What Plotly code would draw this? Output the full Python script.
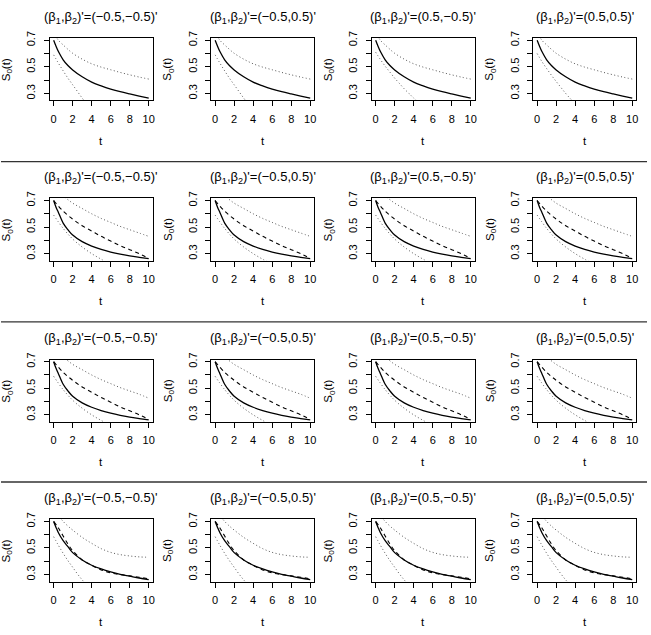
import plotly.graph_objects as go

# ---------------- data ----------------
col_titles = ["(β<sub>1</sub>,β<sub>2</sub>)'=(−0.5,−0.5)'",
              "(β<sub>1</sub>,β<sub>2</sub>)'=(−0.5,0.5)'",
              "(β<sub>1</sub>,β<sub>2</sub>)'=(0.5,−0.5)'",
              "(β<sub>1</sub>,β<sub>2</sub>)'=(0.5,0.5)'"]
x_ticks = [0, 2, 4, 6, 8, 10]
y_ticks = [0.3, 0.4, 0.5, 0.6, 0.7]
y_ticktext = ["0.3", "", "0.5", "", "0.7"]

t_solid = [0, 0.25, 0.5, 1, 1.5, 2, 3, 4, 5, 6, 7, 8, 9, 10]
t_full = [0, 0.5, 1, 1.5, 2, 3, 4, 5, 6, 7, 8, 9, 10]
t_int = [0, 1, 2, 3, 4, 5, 6, 7, 8, 9, 10]
t_half = [0, 0.5, 1, 1.5, 2, 2.5, 3, 3.5, 4, 4.5]
t_low_long = [0, 1, 2, 3, 4, 5, 6]

# row 1
r1_solid = [0.70, 0.655, 0.615, 0.553, 0.51, 0.477, 0.425, 0.385, 0.357, 0.333, 0.313, 0.296, 0.28, 0.265]
r1_upper = [0.76, 0.70, 0.665, 0.632, 0.602, 0.558, 0.523, 0.498, 0.478, 0.458, 0.44, 0.423, 0.408]
r1_lower_c1 = [0.59, 0.528, 0.47, 0.415, 0.365, 0.315, 0.265, 0.22, 0.18, 0.15]
r1_lower_c2 = [0.59, 0.528, 0.47, 0.415, 0.365, 0.315, 0.265, 0.22, 0.18, 0.15]
r1_lower_c3 = [0.61, 0.555, 0.505, 0.46, 0.415, 0.375, 0.335, 0.30, 0.265, 0.235]
r1_lower_c4 = [0.60, 0.54, 0.487, 0.437, 0.39, 0.345, 0.30, 0.26, 0.225, 0.19]
# row 2
r2_solid = [0.70, 0.65, 0.61, 0.53, 0.48, 0.44, 0.39, 0.357, 0.332, 0.312, 0.296, 0.283, 0.272, 0.262]
r2_dashed = [0.70, 0.62, 0.56, 0.51, 0.47, 0.43, 0.395, 0.36, 0.33, 0.30, 0.265]
r2_upper = [0.79, 0.735, 0.68, 0.64, 0.60, 0.565, 0.535, 0.505, 0.48, 0.455, 0.43]
r2_lower = [0.59, 0.49, 0.41, 0.35, 0.30, 0.258, 0.22]
# row 3
r3_solid = [0.70, 0.65, 0.61, 0.53, 0.48, 0.44, 0.39, 0.357, 0.332, 0.312, 0.296, 0.283, 0.272, 0.262]
r3_dashed = [0.70, 0.62, 0.56, 0.51, 0.47, 0.43, 0.395, 0.36, 0.33, 0.30, 0.265]
r3_upper = [0.79, 0.735, 0.68, 0.64, 0.60, 0.565, 0.535, 0.505, 0.48, 0.455, 0.425]
r3_lower = [0.59, 0.49, 0.41, 0.35, 0.30, 0.258, 0.22]
# row 4
r4_solid = [0.70, 0.655, 0.615, 0.555, 0.51, 0.465, 0.41, 0.37, 0.342, 0.32, 0.302, 0.288, 0.274, 0.262]
r4_dashed = [0.70, 0.65, 0.59, 0.53, 0.48, 0.41, 0.37, 0.335, 0.313, 0.30, 0.29, 0.28, 0.268]
r4_upper = [0.80, 0.745, 0.70, 0.665, 0.635, 0.58, 0.535, 0.495, 0.467, 0.45, 0.44, 0.433, 0.43]
r4_lower = [0.585, 0.52, 0.46, 0.405, 0.355, 0.305, 0.26, 0.22, 0.185, 0.15]

def row_sets(solid, dashed, upper, lowers):
    return [dict(solid=(t_solid, solid), dashed=dashed, upper=upper, lower=lw) for lw in lowers]

panels = [
    row_sets(r1_solid, None, (t_full, r1_upper),
             [(t_half, r1_lower_c1), (t_half, r1_lower_c2), (t_half, r1_lower_c3), (t_half, r1_lower_c4)]),
    row_sets(r2_solid, (t_int, r2_dashed), (t_int, r2_upper), [(t_low_long, r2_lower)] * 4),
    row_sets(r3_solid, (t_int, r3_dashed), (t_int, r3_upper), [(t_low_long, r3_lower)] * 4),
    row_sets(r4_solid, (t_full, r4_dashed), (t_full, r4_upper), [(t_half, r4_lower)] * 4),
]

# ---------------- layout geometry (pixels) ----------------
W, H = 651, 635
col_left = [50, 212, 373, 535]
box_w = 103
row_top = [31.5, 193.5, 356.5, 518]
box_h = 63
sep_y = [156.3, 318.3, 480.3]

FONT = "Liberation Sans, Arial, Helvetica, sans-serif"
TICKFONT = dict(size=11, family=FONT, color="black")

def fx(px):
    return px / W

def fy(py):
    return 1 - py / H

fig = go.Figure()
layout = dict(width=W, height=H, margin=dict(l=0, r=0, t=0, b=0),
              paper_bgcolor="white", plot_bgcolor="white", showlegend=False,
              font=dict(family=FONT, color="black"))
annotations = []
shapes = []

dot_line = dict(color="#555555", width=1, dash="1px,2.5px", shape="spline", smoothing=1)

k = 0
for r in range(4):
    for c in range(4):
        k += 1
        xa = "x" if k == 1 else f"x{k}"
        ya = "y" if k == 1 else f"y{k}"
        L = col_left[c]
        T = row_top[r]
        layout["xaxis" if k == 1 else f"xaxis{k}"] = dict(
            domain=[fx(L), fx(L + box_w)], anchor=ya, range=[-0.4, 10.4],
            tickvals=x_ticks, ticks="outside", ticklen=5, tickwidth=1, tickcolor="black",
            showline=True, mirror=True, linecolor="black", linewidth=1,
            showgrid=False, zeroline=False, tickfont=TICKFONT,
            ticklabelstandoff=3, fixedrange=True)
        layout["yaxis" if k == 1 else f"yaxis{k}"] = dict(
            domain=[fy(T + box_h), fy(T)], anchor=xa, range=[0.247, 0.716],
            tickvals=y_ticks, ticktext=y_ticktext, ticks="outside", ticklen=5, tickwidth=1,
            tickcolor="black", tickangle=-90,
            showline=True, mirror=True, linecolor="black", linewidth=1,
            showgrid=False, zeroline=False, tickfont=TICKFONT,
            ticklabelstandoff=4, fixedrange=True)

        d = panels[r][c]
        tx, vy = d["solid"]
        fig.add_trace(go.Scatter(x=tx, y=vy, mode="lines", xaxis=xa, yaxis=ya,
                                 line=dict(color="black", width=1.3, shape="spline", smoothing=1)))
        if d["dashed"] is not None:
            tx, vy = d["dashed"]
            fig.add_trace(go.Scatter(x=tx, y=vy, mode="lines", xaxis=xa, yaxis=ya,
                                     line=dict(color="black", width=1.1, dash="4px,3.5px",
                                               shape="spline", smoothing=1)))
        tx, vy = d["upper"]
        fig.add_trace(go.Scatter(x=tx, y=vy, mode="lines", xaxis=xa, yaxis=ya, line=dot_line))
        tx, vy = d["lower"]
        fig.add_trace(go.Scatter(x=tx, y=vy, mode="lines", xaxis=xa, yaxis=ya, line=dot_line))

        cx = L + box_w / 2
        annotations.append(dict(text=col_titles[c], x=fx(cx), y=fy(T - 21), xref="paper", yref="paper",
                                xanchor="center", yanchor="middle", showarrow=False,
                                font=dict(size=13, family=FONT, color="black")))
        annotations.append(dict(text="S<sub>0</sub>(t)", x=fx(L - 43), y=fy(T + box_h / 2),
                                xref="paper", yref="paper", xanchor="center", yanchor="middle",
                                textangle=-90, showarrow=False,
                                font=dict(size=11.5, family=FONT, color="black")))
        annotations.append(dict(text="t", x=fx(cx), y=fy(T + box_h + 41), xref="paper", yref="paper",
                                xanchor="center", yanchor="middle", showarrow=False,
                                font=dict(size=11.5, family=FONT, color="black")))

for sy in sep_y:
    shapes.append(dict(type="line", xref="paper", yref="paper", x0=fx(1), x1=fx(649),
                       y0=fy(sy), y1=fy(sy), line=dict(color="#333333", width=1.3)))

layout["annotations"] = annotations
layout["shapes"] = shapes
fig.update_layout(**layout)
fig.write_html("out.html")
